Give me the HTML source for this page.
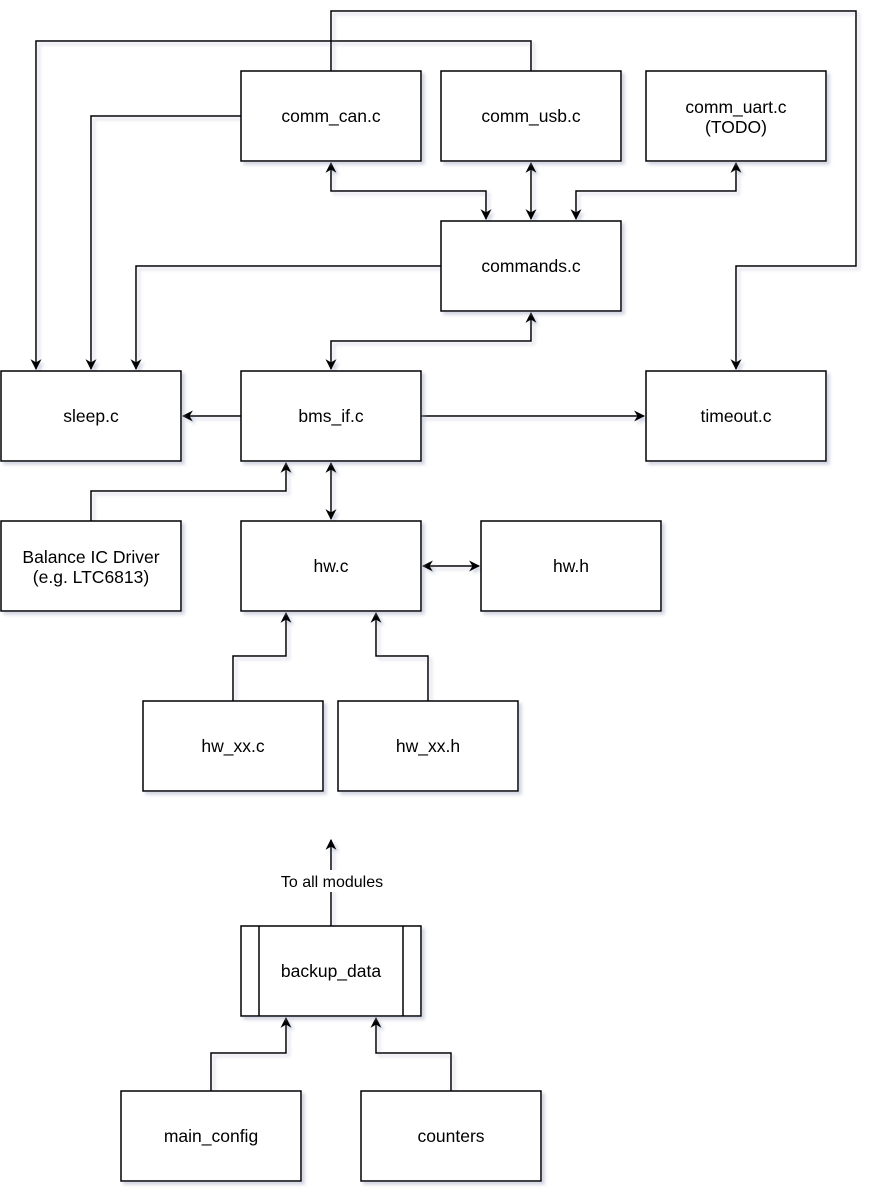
<!DOCTYPE html>
<html><head><style>html,body{margin:0;padding:0;background:#fff}svg{display:block}text{font-family:"Liberation Sans",sans-serif;font-size:17.5px;fill:#000}</style></head><body>
<svg width="885" height="1199" xmlns="http://www.w3.org/2000/svg">
<defs>
<filter id="sh" x="-10%" y="-10%" width="130%" height="130%"><feDropShadow dx="3" dy="3" stdDeviation="1.5" flood-color="#9aa0c0" flood-opacity="0.45"/></filter>
<marker id="a" viewBox="0 0 10 10" refX="9" refY="5" markerWidth="12" markerHeight="11" orient="auto-start-reverse" markerUnits="userSpaceOnUse"><path d="M0,0 L10,5 L0,10 L3,5 z" fill="#000"/></marker>
</defs>
<g filter="url(#sh)" fill="none" stroke="#000" stroke-width="1.5">
<polyline points="331,71 331,11 856,11 856,266 736,266 736,369" marker-end="url(#a)"/>
<polyline points="531,71 531,41 36,41 36,369" marker-end="url(#a)"/>
<polyline points="241,116 91,116 91,369" marker-end="url(#a)"/>
<polyline points="441,266 136,266 136,369" marker-end="url(#a)"/>
<polyline points="331,163 331,191 486,191 486,219" marker-start="url(#a)" marker-end="url(#a)"/>
<polyline points="531,163 531,219" marker-start="url(#a)" marker-end="url(#a)"/>
<polyline points="736,163 736,191 576,191 576,219" marker-start="url(#a)" marker-end="url(#a)"/>
<polyline points="531,313 531,341 331,341 331,369" marker-start="url(#a)" marker-end="url(#a)"/>
<polyline points="241,416 183,416" marker-end="url(#a)"/>
<polyline points="421,416 644,416" marker-end="url(#a)"/>
<polyline points="331,463 331,519" marker-start="url(#a)" marker-end="url(#a)"/>
<polyline points="91,521 91,491 286,491 286,463" marker-end="url(#a)"/>
<polyline points="423,566 479,566" marker-start="url(#a)" marker-end="url(#a)"/>
<polyline points="233,701 233,656 286,656 286,613" marker-end="url(#a)"/>
<polyline points="428,701 428,656 376,656 376,613" marker-end="url(#a)"/>
<polyline points="331,926 331,840" marker-end="url(#a)"/>
<polyline points="211,1091 211,1053 286,1053 286,1018" marker-end="url(#a)"/>
<polyline points="451,1091 451,1053 376,1053 376,1018" marker-end="url(#a)"/>
</g>
<g filter="url(#sh)" fill="#fff" stroke="#000" stroke-width="1.5">
<rect x="241" y="71" width="180" height="90"/>
<rect x="441" y="71" width="180" height="90"/>
<rect x="646" y="71" width="180" height="90"/>
<rect x="441" y="221" width="180" height="90"/>
<rect x="1" y="371" width="180" height="90"/>
<rect x="241" y="371" width="180" height="90"/>
<rect x="646" y="371" width="180" height="90"/>
<rect x="1" y="521" width="180" height="90"/>
<rect x="241" y="521" width="180" height="90"/>
<rect x="481" y="521" width="180" height="90"/>
<rect x="143" y="701" width="180" height="90"/>
<rect x="338" y="701" width="180" height="90"/>
<rect x="241" y="926" width="180" height="90"/>
<rect x="121" y="1091" width="180" height="90"/>
<rect x="361" y="1091" width="180" height="90"/>
</g>
<line x1="259" y1="926" x2="259" y2="1016" stroke="#000" stroke-width="1.5"/>
<line x1="403" y1="926" x2="403" y2="1016" stroke="#000" stroke-width="1.5"/>
<rect x="277" y="870" width="110" height="22" fill="#fff"/>
<g text-anchor="middle">
<text x="331" y="122">comm_can.c</text>
<text x="531" y="122">comm_usb.c</text>
<text x="736" y="113">comm_uart.c</text>
<text x="736" y="133">(TODO)</text>
<text x="531" y="272">commands.c</text>
<text x="91" y="422">sleep.c</text>
<text x="331" y="422">bms_if.c</text>
<text x="736" y="422">timeout.c</text>
<text x="91" y="563">Balance IC Driver</text>
<text x="91" y="583">(e.g. LTC6813)</text>
<text x="331" y="572">hw.c</text>
<text x="571" y="572">hw.h</text>
<text x="233" y="752">hw_xx.c</text>
<text x="428" y="752">hw_xx.h</text>
<text x="331" y="977">backup_data</text>
<text x="211" y="1142">main_config</text>
<text x="451" y="1142">counters</text>
<text x="332" y="887" style="font-size:16px">To all modules</text>
</g>
</svg>
</body></html>
